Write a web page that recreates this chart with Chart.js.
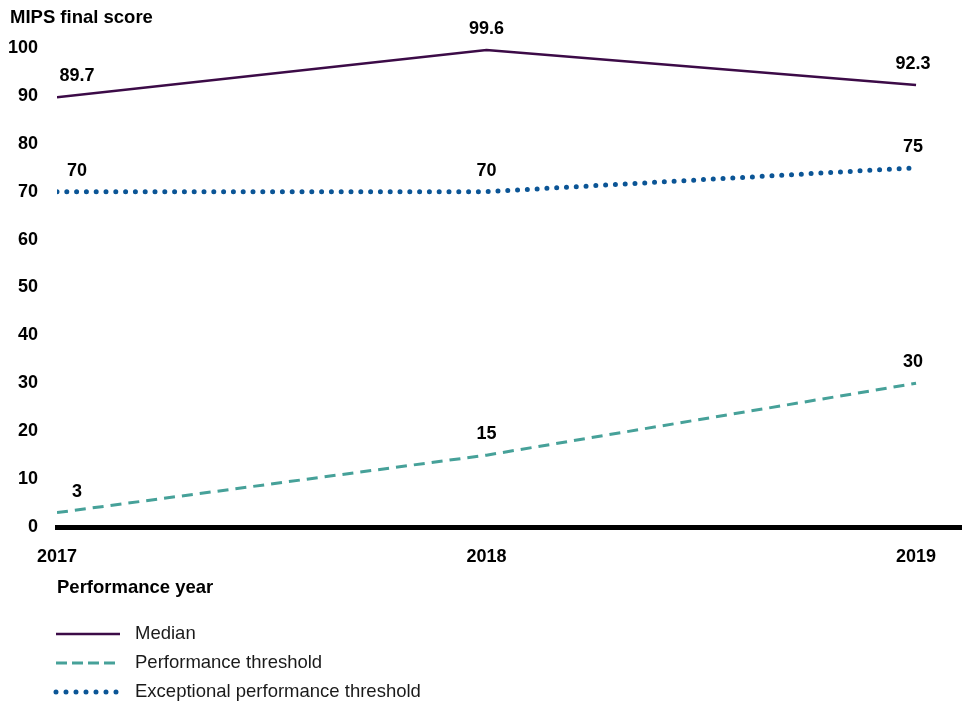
<!DOCTYPE html>
<html>
<head>
<meta charset="utf-8">
<script src="https://cdn.jsdelivr.net/npm/chart.js@4"></script>
<style>
  html, body { margin: 0; padding: 0; background: #fff; }
  #wrap { width: 962px; height: 707px; }
</style>
</head>
<body>
<div id="wrap"><canvas id="mips-chart" width="962" height="707"></canvas></div>
<script>
// data
const years = [2017, 2018, 2019];
const median = [89.7, 99.6, 92.3];
const performanceThreshold = [3, 15, 30];
const exceptionalThreshold = [70, 70, 75];
const yTicks = [0, 10, 20, 30, 40, 50, 60, 70, 80, 90, 100];

const FONT = "Arial, 'Liberation Sans', sans-serif";

const seriesStyles = [
  { label: 'Median', color: '#3c0b47', dash: [], legendDash: [], width: 2.5, cap: 'butt' },
  { label: 'Performance threshold', color: '#46a199', dash: [11, 7], legendDash: [11, 5], width: 3, cap: 'butt' },
  { label: 'Exceptional performance threshold', color: '#0b5596', dash: [0, 9.8], legendDash: [0, 10], width: 5, cap: 'round' }
];
const seriesData = [median, performanceThreshold, exceptionalThreshold];

// labels above each point, nudged like in the original
const labelOffsets = [20, 0, -3];

const extrasPlugin = {
  id: 'extras',
  afterDatasetsDraw(chart) {
    const ctx = chart.ctx;
    ctx.save();
    ctx.fillStyle = '#000';
    ctx.font = 'bold 18px ' + FONT;
    ctx.textAlign = 'center';
    ctx.textBaseline = 'middle';
    chart.data.datasets.forEach((ds, i) => {
      chart.getDatasetMeta(i).data.forEach((pt, j) => {
        ctx.fillText(String(ds.data[j].y), pt.x + labelOffsets[j], pt.y - 21);
      });
    });
    ctx.restore();
  },
  afterDraw(chart) {
    const ctx = chart.ctx;
    ctx.save();
    ctx.fillStyle = '#000';
    ctx.textBaseline = 'middle';
    ctx.textAlign = 'left';
    ctx.font = 'bold 18.5px ' + FONT;
    ctx.fillText('MIPS final score', 10, 18);
    ctx.fillText('Performance year', 57, 588);

    // legend
    const rows = [634, 663, 692];
    seriesStyles.forEach((s, i) => {
      ctx.beginPath();
      ctx.strokeStyle = s.color;
      ctx.lineWidth = s.width;
      ctx.lineCap = s.cap;
      ctx.setLineDash(s.legendDash);
      ctx.moveTo(56, rows[i]);
      ctx.lineTo(120, rows[i]);
      ctx.stroke();
      ctx.setLineDash([]);
      ctx.fillStyle = '#1a1a1a';
      ctx.font = '18.5px ' + FONT;
      ctx.fillText(s.label, 135, rows[i]);
    });
    ctx.restore();
  }
};

function initializeChart() {
  const ctx = document.getElementById('mips-chart');

  const datasets = seriesStyles.map((s, i) => ({
    label: s.label,
    data: years.map((yr, k) => ({ x: yr, y: seriesData[i][k] })),
    borderColor: s.color,
    borderWidth: s.width,
    borderDash: s.dash,
    borderCapStyle: s.cap,
    pointRadius: 0,
    tension: 0,
    fill: false
  }));

  const config = {
    type: 'line',
    data: { datasets: datasets },
    options: {
      responsive: false,
      animation: false,
      layout: { padding: { top: 48, left: 0, right: 0, bottom: 0 } },
      plugins: {
        legend: { display: false },
        title: { display: false },
        tooltip: { enabled: false }
      },
      scales: {
        x: {
          type: 'linear',
          min: 2017,
          max: 2019.107,
          afterBuildTicks: scale => { scale.ticks = years.map(v => ({ value: v })); },
          afterFit: scale => { scale.height = 180; },
          grid: { display: true, drawOnChartArea: false, drawTicks: false },
          border: { display: true, color: '#000', width: 5 },
          ticks: {
            padding: 19,
            color: '#000',
            font: { family: FONT, size: 18, weight: 'bold' },
            maxRotation: 0,
            callback: v => String(v)
          }
        },
        y: {
          min: 0,
          max: 100,
          afterBuildTicks: scale => { scale.ticks = yTicks.map(v => ({ value: v })); },
          afterFit: scale => { scale.width = 57; },
          grid: { display: false, drawTicks: false },
          border: { display: false },
          ticks: {
            padding: 19,
            color: '#000',
            font: { family: FONT, size: 18, weight: 'bold' }
          }
        }
      }
    },
    plugins: [extrasPlugin]
  };

  new Chart(ctx, config);
}

initializeChart();
</script>
</body>
</html>
